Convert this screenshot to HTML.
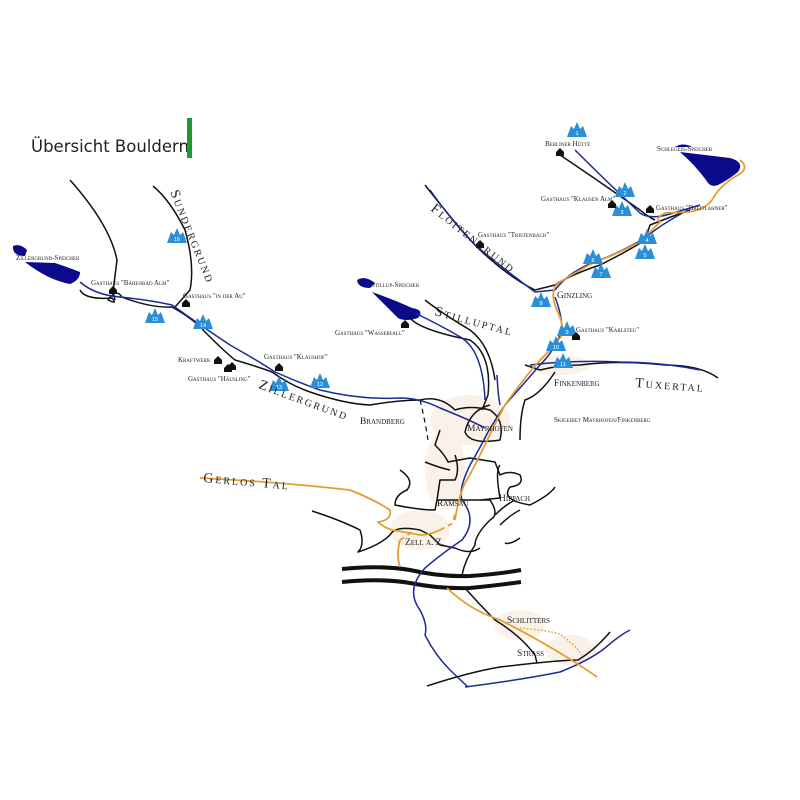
<!DOCTYPE html>
<html><head><meta charset="utf-8"><style>
html,body{margin:0;padding:0;background:#fff;}
svg{display:block}
.l{font-family:"Liberation Serif",serif;font-variant:small-caps;fill:#222;}
.s{font-size:7px;}
.m{font-size:9.5px;}
.b{font-size:14px;letter-spacing:2px;}
</style></head><body>
<svg width="800" height="800" viewBox="0 0 800 800" xmlns="http://www.w3.org/2000/svg">
<defs>
<g id="mt"><path d="M-10,7 L-6,-4 L-3,-1 L0,-8 L3,-1 L6,-4 L10,7 Z" fill="#2b8fd6"/></g>
<g id="hs"><path d="M-4,3 L-4,-1 L0,-5 L4,-1 L4,3 Z" fill="#111"/></g>
</defs>
<!-- light patches -->
<g fill="#faf1e8">
<ellipse cx="470" cy="420" rx="40" ry="25"/><ellipse cx="445" cy="470" rx="20" ry="40"/>
<ellipse cx="420" cy="530" rx="30" ry="20"/><ellipse cx="520" cy="625" rx="25" ry="15"/>
<ellipse cx="570" cy="650" rx="25" ry="15"/><ellipse cx="560" cy="365" rx="30" ry="10"/>
</g>
<text x="31" y="152" font-family="'DejaVu Sans',sans-serif" font-size="16.5" fill="#222">Übersicht Bouldern</text>
<rect x="187" y="118" width="5" height="40" fill="#1a9a2a"/>
<!-- lakes -->
<path d="M13,246 Q20,243 27,250 L25,256 Q12,256 13,246Z M25,262 L55,263 Q70,268 80,272 Q80,280 70,284 Q48,280 25,262Z" fill="#0a0a8a"/>
<path d="M357,280 Q365,275 375,283 L370,288 Q358,288 357,280Z M372,292 Q395,300 412,308 Q425,310 418,318 Q405,322 398,318 Q385,305 372,292Z" fill="#0a0a8a"/>
<path d="M675,147 Q683,142 692,147Z M680,152 Q705,155 730,158 Q745,162 738,172 Q728,180 718,185 Q710,188 706,180 Q695,165 680,152Z" fill="#0a0a8a"/>
<!-- black roads -->
<g fill="none" stroke="#111" stroke-width="1.5" stroke-linejoin="round">
<path d="M70,180 Q110,225 117,260 L113,292 L115,300"/>
<path d="M153,186 Q170,200 185,230 Q195,265 190,290 L175,307"/>
<path d="M80,290 Q85,300 112,298 Q118,305 108,300 Q116,288 122,297 Q150,308 172,307 Q195,320 205,332 Q225,352 235,360 Q262,368 272,372 Q290,385 310,392 Q345,404 370,405 Q400,400 420,400"/>
<path d="M410,318 Q420,330 470,340 Q492,355 488,395 L482,410"/>
<path d="M420,400 Q440,395 455,410 Q470,405 490,410 Q505,420 500,440 Q470,445 465,432 Q470,410 490,405"/>
<path d="M425,185 Q460,230 480,250 Q510,278 535,290 L555,285 Q570,275 600,265 Q630,250 645,240 L650,225 Q670,217 690,210"/>
<path d="M560,155 Q590,175 640,210 Q650,218 655,220"/>
<path d="M525,365 L540,370 Q560,365 580,365 Q620,360 665,365 Q700,365 718,378"/>
<path d="M555,372 Q540,395 525,400 Q520,415 520,440"/>
<path d="M440,430 L435,445 Q445,455 448,462 L470,458 L495,462 L500,475 Q510,470 520,475 Q525,485 510,487 Q500,500 530,505 Q550,495 555,487"/>
<path d="M425,462 Q440,468 450,470 M455,455 Q460,470 455,480 L440,480 L437,500 L480,500 L500,498 Q495,470 500,465 M480,500 L490,500 Q500,515 490,520 Q475,535 475,545 Q465,560 462,575"/>
<path d="M400,470 Q415,480 407,490 Q395,495 395,505 Q420,510 435,510 L437,500"/>
<path d="M312,511 Q340,520 360,530 Q365,545 358,552 Q380,545 390,535 Q395,525 420,530 L430,535 L440,545 L455,548"/>
<path d="M495,515 Q505,505 515,500 M500,525 Q510,515 520,510"/>
<path d="M455,548 Q470,555 480,548 M520,538 Q510,545 505,543"/>
<path d="M465,588 Q480,605 495,620 Q520,635 535,655 L537,663"/>
<path d="M427,686 Q470,672 500,667 Q560,660 578,660 Q595,650 610,632"/>
<path d="M425,300 Q440,312 470,330 Q490,345 495,380"/>
</g>
<path d="M420,400 Q425,420 428,440" stroke="#111" stroke-width="1.2" stroke-dasharray="5,4" fill="none"/>
<!-- highway -->
<path d="M342,569 Q380,565 410,570 Q440,577 470,576 Q500,574 521,570" stroke="#111" stroke-width="4" fill="none"/>
<path d="M342,582 Q380,578 410,583 Q440,589 470,588 Q500,585 521,582" stroke="#111" stroke-width="4" fill="none"/>
<!-- blue rivers -->
<g fill="none" stroke="#1a2a9a" stroke-width="1.5" stroke-linejoin="round">
<path d="M80,282 Q95,295 120,297 Q150,300 172,305 Q200,325 230,345 Q260,362 275,372 Q300,383 320,390 Q360,400 400,398 Q420,398 440,408 Q470,420 485,428"/>
<path d="M430,190 Q455,225 475,245 Q505,270 535,292 L555,290"/>
<path d="M575,150 Q605,180 640,213 Q650,220 670,214 Q690,208 700,205"/>
<path d="M555,290 Q570,270 600,260 Q625,250 645,238 Q660,225 688,210"/>
<path d="M415,313 Q440,325 462,338 Q483,352 485,400"/>
<path d="M555,297 Q562,315 562,330 Q555,350 540,365 Q520,388 505,405 Q495,420 488,432 Q480,448 470,465 Q458,490 462,500 Q478,520 462,540 Q440,555 425,568 Q405,590 420,610 Q428,625 425,635 Q435,655 450,670 L468,687"/>
<path d="M497,375 Q498,395 500,405"/>
<path d="M465,687 Q520,680 560,672 Q590,660 605,648 Q620,635 630,630"/>
<path d="M530,365 Q570,360 620,362 Q660,362 700,370"/>
</g>
<!-- orange -->
<g fill="none" stroke="#e0a030" stroke-width="1.8" stroke-linejoin="round">
<path d="M740,160 Q750,168 738,175 Q720,185 712,200 Q705,210 688,212 L665,213 Q655,218 660,222 Q650,232 640,242 Q615,255 595,262 Q570,275 556,285 Q550,295 557,310 Q564,325 562,335 Q555,345 548,352"/>
<path d="M548,352 Q535,365 525,378 Q512,395 505,405 Q497,420 492,430 Q485,445 480,455 Q470,475 464,485 Q458,500 455,520"/>
<path d="M200,478 Q280,482 350,490 Q375,500 390,510 Q392,520 378,522 Q385,528 392,530 Q410,533 420,535 Q430,535 440,530"/>
<path d="M400,540 Q396,555 400,567"/>
<path d="M447,588 Q470,610 500,620 Q530,635 555,650 Q580,665 597,677"/>
</g>
<path d="M440,530 L453,523 L455,512 M400,540 L412,532" stroke="#e0a030" stroke-width="1.8" stroke-dasharray="5,4" fill="none"/>
<path d="M520,628 Q545,630 560,634 Q575,645 582,655" stroke="#e0a030" stroke-width="1.5" stroke-dasharray="1.5,2" fill="none"/>
<!-- mountains -->
<g font-family="'Liberation Sans',sans-serif" font-size="5.5" fill="#fff" text-anchor="middle">
<use href="#mt" x="177" y="236"/><text x="177" y="241">16</text>
<use href="#mt" x="155" y="316"/><text x="155" y="321">15</text>
<use href="#mt" x="203" y="322"/><text x="203" y="327">14</text>
<use href="#mt" x="279" y="384"/><text x="279" y="389">13</text>
<use href="#mt" x="320" y="381"/><text x="320" y="386">12</text>
<use href="#mt" x="577" y="130"/><text x="577" y="135">1</text>
<use href="#mt" x="625" y="190"/><text x="625" y="195">2</text>
<use href="#mt" x="622" y="209"/><text x="622" y="214">3</text>
<use href="#mt" x="647" y="237"/><text x="647" y="242">4</text>
<use href="#mt" x="645" y="252"/><text x="645" y="257">5</text>
<use href="#mt" x="593" y="257"/><text x="593" y="262">6</text>
<use href="#mt" x="601" y="271"/><text x="601" y="276">7</text>
<use href="#mt" x="541" y="300"/><text x="541" y="305">8</text>
<use href="#mt" x="567" y="329"/><text x="567" y="334">9</text>
<use href="#mt" x="556" y="344"/><text x="556" y="349">10</text>
<use href="#mt" x="563" y="361"/><text x="563" y="366">11</text>
</g>
<!-- houses -->
<use href="#hs" x="113" y="291"/><use href="#hs" x="186" y="304"/><use href="#hs" x="218" y="361"/>
<use href="#hs" x="228" y="369"/><use href="#hs" x="232" y="367"/><use href="#hs" x="279" y="368"/>
<use href="#hs" x="405" y="325"/><use href="#hs" x="560" y="153"/><use href="#hs" x="612" y="205"/>
<use href="#hs" x="650" y="210"/><use href="#hs" x="480" y="245"/><use href="#hs" x="576" y="337"/>
<!-- labels -->
<g class="l s">
<text x="16" y="260">Zillergrund-Speicher</text>
<text x="91" y="285">Gasthaus "Bärenbad Alm"</text>
<text x="183" y="298">Gasthaus "in der Au"</text>
<text x="178" y="362">Kraftwerk</text>
<text x="188" y="381">Gasthaus "Häusling"</text>
<text x="264" y="359">Gasthaus "Klaushof"</text>
<text x="371" y="287">Stillup-Speicher</text>
<text x="335" y="335">Gasthaus "Wasserfall"</text>
<text x="545" y="146">Berliner Hütte</text>
<text x="541" y="201">Gasthaus "Klausen Alm"</text>
<text x="657" y="151">Schlegeis-Speicher</text>
<text x="656" y="210">Gasthaus "Breitlahner"</text>
<text x="478" y="237">Gasthaus "Tristenbach"</text>
<text x="576" y="332">Gasthaus "Karlsteg"</text>
<text x="554" y="422">Skigebiet Mayrhofen/Finkenberg</text>
</g>
<g class="l m">
<text x="557" y="298">Ginzling</text>
<text x="554" y="386">Finkenberg</text>
<text x="467" y="431">Mayrhofen</text>
<text x="360" y="424">Brandberg</text>
<text x="437" y="506">Ramsau</text>
<text x="499" y="501">Hippach</text>
<text x="405" y="545">Zell a. Z.</text>
<text x="507" y="623">Schlitters</text>
<text x="517" y="656">Strass</text>
</g>
<g class="l b">
<text x="203" y="482" transform="rotate(5 203 482)">Gerlos Tal</text>
<text x="635" y="387" transform="rotate(4 635 387)">Tuxertal</text>
<text x="434" y="315" transform="rotate(15 434 315)">Stilluptal</text>
<text x="430" y="210" transform="rotate(38 430 210)">Floitengrund</text>
<text x="170" y="192" transform="rotate(68 170 192)">Sundergrund</text>
<text x="258" y="388" transform="rotate(20 258 388)">Zillergrund</text>
</g>
</svg>
</body></html>
